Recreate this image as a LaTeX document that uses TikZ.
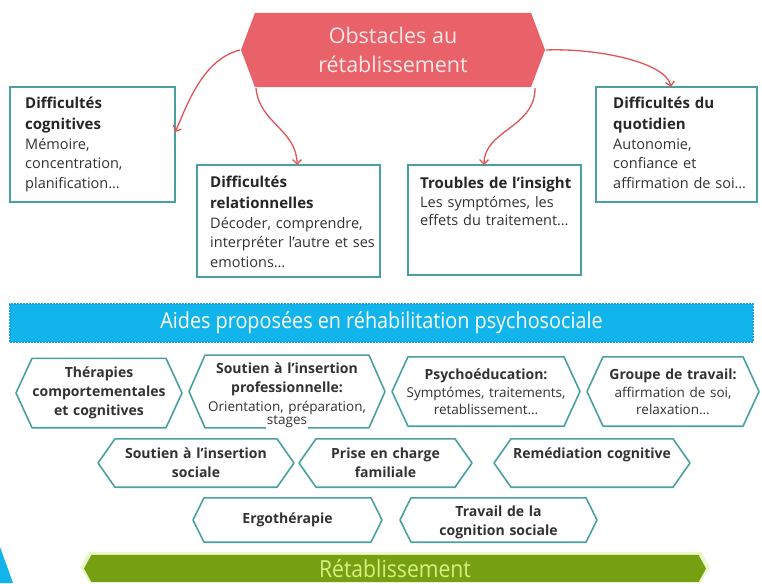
\documentclass[tikz,border=0pt]{standalone}
\usepackage{fontspec}
\setmainfont{Open Sans}
\newfontfamily\condfont[FakeStretch=0.9]{Open Sans}
\usetikzlibrary{arrows.meta}
\definecolor{tealc}{RGB}{74,160,160}
\definecolor{redc}{RGB}{233,97,105}
\definecolor{arrowc}{RGB}{225,85,85}
\definecolor{bluec}{RGB}{18,180,236}
\definecolor{blued}{RGB}{20,160,225}
\definecolor{greenc}{RGB}{118,160,18}
\definecolor{greenl}{RGB}{214,240,130}
\definecolor{glowc}{RGB}{234,247,200}
\definecolor{txt}{RGB}{50,50,50}
\definecolor{redtxt}{RGB}{253,232,232}
\setlength{\fboxsep}{1pt}
\newcommand{\boxhead}[1]{{\fontsize{15}{20}\selectfont\bfseries\color{black!85}#1}}
\newcommand{\detailtxt}{\mdseries\fontsize{13.5}{15}\selectfont}
\tikzset{
  hexind/.store in=\hexind,
  hexfill/.store in=\hexfillc,
  hexdraw/.store in=\hexdrawc,
  hexind=17pt, hexfill=white, hexdraw=tealc,
  hexagonal/.style={inner sep=0pt, outer sep=0pt, path picture={
    \path[fill=\hexfillc, draw=\hexdrawc, line width=1.6pt, line join=round]
      ([xshift=1pt]path picture bounding box.west)
      -- ([xshift=\hexind,yshift=-0.8pt]path picture bounding box.north west)
      -- ([xshift=-\hexind,yshift=-0.8pt]path picture bounding box.north east)
      -- ([xshift=-1pt]path picture bounding box.east)
      -- ([xshift=-\hexind,yshift=0.8pt]path picture bounding box.south east)
      -- ([xshift=\hexind,yshift=0.8pt]path picture bounding box.south west)
      -- cycle;}},
  hexbox/.style={hexagonal, align=center, font=\fontsize{14}{19}\selectfont\bfseries\color{txt}},
  box/.style={draw=tealc, line width=1.8pt, fill=white, inner sep=0pt, outer sep=0pt},
  boxtext/.style={inner sep=0pt, anchor=north west, align=left, text width=175pt,
     font=\fontsize{14.5}{19.5}\selectfont\color{txt}},
  arr/.style={draw=arrowc, line width=1.3pt, -{Straight Barb[length=4.5pt,width=9pt]}},
}
\begin{document}
\begin{tikzpicture}[x=1pt,y=-1pt]
\useasboundingbox (0,0) rectangle (762,583);
\fill[white] (0,0) rectangle (762,583);

% top obstacle
\node[hexagonal, hexind=15pt, hexfill=redc, hexdraw=none, minimum width=306pt, minimum height=76pt,
  align=center, font=\fontsize{21.5}{28.5}\selectfont\color{redtxt}] (obs) at (393,50) {Obstacles au\\rétablissement};

% boxes
\node[box, minimum width=165pt, minimum height=115pt] (b1) at (92.5,144.5) {};
\node[box, minimum width=183pt, minimum height=112pt] (b2) at (288.5,221) {};
\node[box, minimum width=173pt, minimum height=110pt] (b3) at (494.5,220) {};
\node[box, minimum width=161pt, minimum height=115pt] (b4) at (676.5,144.5) {};

\node[boxtext] (t1) at ([xshift=15pt,yshift=-10pt]b1.north west)
  {\boxhead{Difficultés}\\[1.5pt]\boxhead{cognitives}\\Mémoire,\\concentration,\\planification…};
\node[boxtext] (t2) at ([xshift=13pt,yshift=-11pt]b2.north west)
  {\boxhead{Difficultés}\\[1.5pt]\boxhead{relationnelles}\\Décoder, comprendre,\\interpréter l'autre et ses\\emotions…};
\node[boxtext] (t3) at ([xshift=12pt,yshift=-12pt]b3.north west)
  {\boxhead{Troubles de l’insight}\\[-1pt]Les symptómes, les\\[-1.5pt]effets du traitement…};
\node[boxtext] (t4) at ([xshift=17pt,yshift=-10pt]b4.north west)
  {\boxhead{Difficultés du}\\[1.5pt]\boxhead{quotidien}\\Autonomie,\\confiance et\\affirmation de soi…};

% arrows
\draw[arr] (obs.west) .. controls +(-40,10) and +(10,-20) .. ([yshift=12.5pt]b1.east);
\draw[arr] ([xshift=16pt]obs.south west) .. controls +(3,35) and +(0,-35) .. ([xshift=8.5pt]b2.north);
\draw[arr] ([xshift=-11pt]obs.south east) .. controls +(0,40) and +(0,-35) .. ([xshift=-10.5pt]b3.north);
\draw[arr] (obs.east) .. controls +(50,-2) and +(-5,-25) .. ([xshift=-5.5pt]b4.north);

% blue bar
\node[fill=bluec, draw=blued, dash pattern=on 1.6pt off 1.4pt, line width=1.2pt,
  minimum width=743pt, minimum height=38pt, inner sep=0pt,
  font=\condfont\fontsize{22}{24}\selectfont\color{white}] (aides) at (381.5,323)
  {Aides proposées en réhabilitation psychosociale};

% row 1
\node[hexbox, hexind=17pt, minimum width=168pt, minimum height=71pt, text width=158pt] (h1) at (99,393)
  {Thérapies\\comportementales\\et cognitives};
\node[hexbox, hexind=17pt, minimum width=198pt, minimum height=71pt, text width=188pt] (h2) at (287,391.5)
  {\rule{0pt}{19pt}Soutien à l’insertion\\professionnelle:\\[4pt]{\detailtxt Orientation, préparation,\\[-6pt]\colorbox{white}{stages}}};
\node[hexbox, hexind=17pt, minimum width=190pt, minimum height=71pt, text width=180pt] (h3) at (486,391.5)
  {Psychoéducation:\\[3pt]{\detailtxt Symptómes, traitements,\\[-2pt]retablissement…}};
\node[hexbox, hexind=17pt, minimum width=174pt, minimum height=71pt, text width=164pt] (h4) at (673,391.5)
  {Groupe de travail:\\[3pt]{\detailtxt affirmation de soi,\\[-2pt]relaxation…}};

% row 2
\node[hexbox, hexind=18pt, minimum width=198pt, minimum height=50pt, text width=188pt] (h5) at (196,463)
  {Soutien à l’insertion\\sociale};
\node[hexbox, hexind=18pt, minimum width=175pt, minimum height=50pt, text width=165pt] (h6) at (385.5,463)
  {Prise en charge\\familiale};
\node[hexbox, hexind=18pt, minimum width=198pt, minimum height=50pt, text width=188pt] (h7) at (592,463)
  {Remédiation cognitive\\\mbox{}};

% row 3
\node[hexbox, hexind=12pt, minimum width=191pt, minimum height=46pt, text width=181pt] (h8) at (287.5,520)
  {Ergothérapie};
\node[hexbox, hexind=12pt, minimum width=199pt, minimum height=46pt, text width=189pt] (h9) at (498.5,520)
  {\rule{0pt}{15pt}Travail de la\\cognition sociale};

% green bar
\node[hexagonal, hexind=10pt, hexfill=glowc, hexdraw=none, minimum width=632pt, minimum height=32pt] (glow) at (395,567) {};
\node[hexagonal, hexind=8.5pt, hexfill=greenc, hexdraw=none, minimum width=624pt, minimum height=29pt,
  font=\condfont\fontsize{23.5}{26}\selectfont\color{greenl}] (ret) at (395,568.5) {Rétablissement};

% blue corner shape
\fill[bluec] (0,547) -- (13,583) -- (0,583) -- cycle;
\end{tikzpicture}
\end{document}
